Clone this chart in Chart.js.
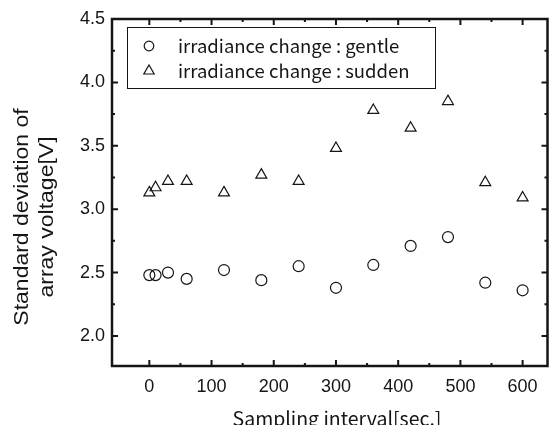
<!DOCTYPE html>
<html>
<head>
<meta charset="utf-8">
<script src="https://cdn.jsdelivr.net/npm/chart.js@4/dist/chart.umd.min.js"></script>
<style>
html,body{margin:0;padding:0;background:#fff;}
#wrap{width:555px;height:425px;}
</style>
</head>
<body>
<div id="wrap"><canvas id="c" width="555" height="425"></canvas></div>
<script>
// ---- data ----
const intervals = [0, 10, 30, 60, 120, 180, 240, 300, 360, 420, 480, 540, 600];
const gentleValues = [2.48, 2.48, 2.50, 2.45, 2.52, 2.44, 2.55, 2.38, 2.56, 2.71, 2.78, 2.42, 2.36];
const suddenValues = [3.13, 3.17, 3.22, 3.22, 3.13, 3.27, 3.22, 3.48, 3.78, 3.64, 3.85, 3.21, 3.09];
const seriesLabels = ['irradiance change : gentle', 'irradiance change : sudden'];
const xMajorTicks = [0, 100, 200, 300, 400, 500, 600];
const xMinorTicks = [50, 150, 250, 350, 450, 550];
const yMajorTicks = [2.0, 2.5, 3.0, 3.5, 4.0, 4.5];
const yMinorTicks = [2.25, 2.75, 3.25, 3.75, 4.25];
const xTitle = 'Sampling interval[sec.]';
const yTitleLines = ['Standard deviation of', 'array voltage[V]'];

const INK = '#151515';
const gothic = '"Noto Sans CJK JP", "Noto Sans", sans-serif';
const arial = '"Liberation Sans", Arial, sans-serif';

const framePlugin = {
  id: 'frame',
  afterDraw(chart) {
    const ctx = chart.ctx;
    const {left, right, top, bottom} = chart.chartArea;
    const xs = chart.scales.x, ys = chart.scales.y;
    ctx.save();
    ctx.strokeStyle = INK;
    ctx.lineWidth = 2;
    const tk = (arr, len, horiz) => {
      arr.forEach(v => {
        ctx.beginPath();
        if (horiz) {
          const p = xs.getPixelForValue(v);
          ctx.moveTo(p, bottom); ctx.lineTo(p, bottom - len);
          ctx.moveTo(p, top); ctx.lineTo(p, top + len);
        } else {
          const p = ys.getPixelForValue(v);
          ctx.moveTo(left, p); ctx.lineTo(left + len, p);
          ctx.moveTo(right, p); ctx.lineTo(right - len, p);
        }
        ctx.stroke();
      });
    };
    tk(xMajorTicks, 6, true);
    tk(xMinorTicks, 3, true);
    tk(yMajorTicks, 6, false);
    tk(yMinorTicks, 3, false);
    ctx.lineWidth = 2.5;
    ctx.strokeRect(left, top, right - left, bottom - top);

    const lx = 127, ly = 27, lw = 308, lh = 61;
    ctx.lineWidth = 1;
    ctx.fillStyle = '#fff';
    ctx.fillRect(lx, ly, lw, lh);
    ctx.strokeRect(lx + 0.5, ly + 0.5, lw, lh);
    ctx.fillStyle = INK;
    ctx.textBaseline = 'middle';
    ctx.textAlign = 'left';
    ctx.font = '17px ' + gothic;
    const w17 = ctx.measureText(seriesLabels[0]).width;
    const fs = Math.max(12, Math.min(20, 17 * 221 / w17));
    ctx.font = fs.toFixed(1) + 'px ' + gothic;
    const rows = [46, 71];
    chart.data.datasets.forEach((ds, i) => {
      const cy = rows[i];
      ctx.lineWidth = 1.2;
      ctx.beginPath();
      if (ds.pointStyle === 'circle') {
        ctx.arc(149, cy, 4.8, 0, Math.PI * 2);
      } else {
        const r = 6;
        ctx.moveTo(149, cy - r);
        ctx.lineTo(149 + r * Math.sin(Math.PI / 3), cy + r / 2);
        ctx.lineTo(149 - r * Math.sin(Math.PI / 3), cy + r / 2);
        ctx.closePath();
      }
      ctx.stroke();
      ctx.fillText(ds.label, 178, cy);
    });

    ctx.font = '17px ' + gothic;
    const wx = ctx.measureText(xTitle).width;
    const fx = Math.max(12, Math.min(22, 17 * 209 / wx));
    ctx.font = fx.toFixed(1) + 'px ' + gothic;
    ctx.textAlign = 'center';
    ctx.textBaseline = 'middle';
    ctx.fillText(xTitle, 337, 419);

    ctx.font = '23px ' + arial;
    ctx.textAlign = 'center';
    ctx.textBaseline = 'alphabetic';
    [[yTitleLines[0], 28], [yTitleLines[1], 53]].forEach(([t, bx]) => {
      ctx.save();
      ctx.translate(bx, 217);
      ctx.rotate(-Math.PI / 2);
      ctx.scale(1, 0.84);
      ctx.fillText(t, 0, 0);
      ctx.restore();
    });
    ctx.restore();
  }
};

const toPoints = vals => intervals.map((x, i) => ({x: x, y: vals[i]}));

new Chart(document.getElementById('c'), {
  type: 'scatter',
  data: {
    datasets: [
      {
        label: seriesLabels[0],
        data: toPoints(gentleValues),
        pointStyle: 'circle',
        pointRadius: 5.5,
        pointBorderWidth: 1.2,
        pointBorderColor: INK,
        pointBackgroundColor: 'rgba(255,255,255,0)'
      },
      {
        label: seriesLabels[1],
        data: toPoints(suddenValues),
        pointStyle: 'triangle',
        pointRadius: 6.3,
        pointBorderWidth: 1.2,
        pointBorderColor: INK,
        pointBackgroundColor: 'rgba(255,255,255,0)'
      }
    ]
  },
  options: {
    responsive: false,
    animation: false,
    devicePixelRatio: 1,
    layout: {padding: {top: 19, right: 7, left: 0, bottom: 0}},
    plugins: {legend: {display: false}, tooltip: {enabled: false}},
    scales: {
      x: {
        type: 'linear',
        min: -60,
        max: 640,
        afterBuildTicks: s => { s.ticks = xMajorTicks.map(v => ({value: v})); },
        afterFit: s => { s.height = 59; },
        grid: {display: false, drawTicks: false},
        border: {display: false},
        ticks: {
          padding: 10,
          color: INK,
          font: {family: arial, size: 18},
          maxRotation: 0,
          callback: v => String(v)
        }
      },
      y: {
        type: 'linear',
        min: 1.763,
        max: 4.5,
        afterBuildTicks: s => { s.ticks = yMajorTicks.map(v => ({value: v})); },
        afterFit: s => { s.width = 112; },
        grid: {display: false, drawTicks: false},
        border: {display: false},
        ticks: {
          padding: 7,
          color: INK,
          font: {family: arial, size: 18},
          callback: v => Number(v).toFixed(1)
        }
      }
    }
  },
  plugins: [framePlugin]
});
</script>
</body>
</html>
